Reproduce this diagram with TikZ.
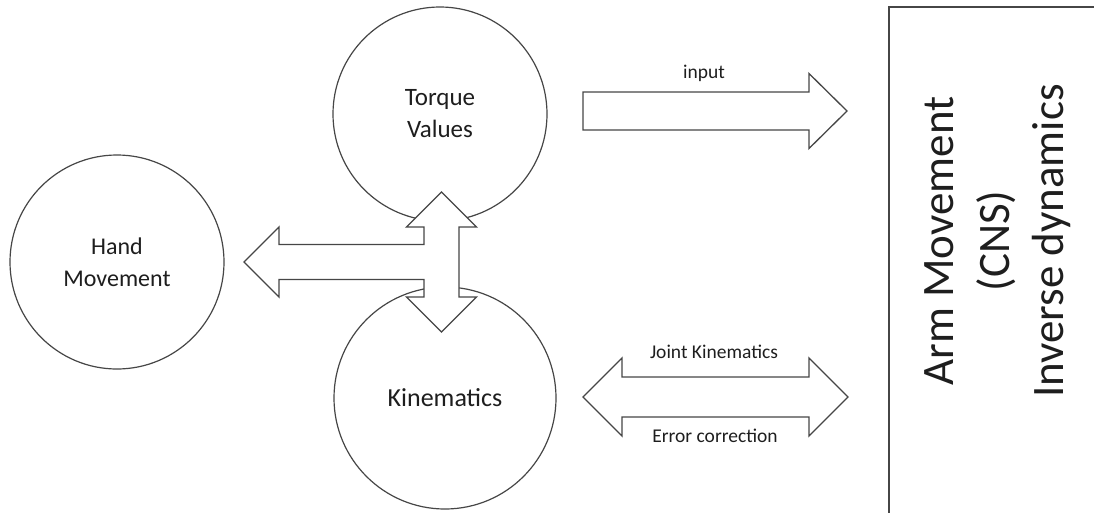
\documentclass[tikz,border=0pt]{standalone}
\usepackage{fontspec}
\setmainfont{Carlito}
\definecolor{lc}{RGB}{70,70,70}
\definecolor{tc}{RGB}{30,30,30}
\begin{document}
\begin{tikzpicture}[x=1pt,y=-1pt,
  blob/.style={circle, draw=lc, line width=1.2pt, fill=white, inner sep=0pt, align=center, text=tc},
  lbl/.style={anchor=base, text=tc, font=\fontsize{19.5}{22}\selectfont, inner sep=0pt},
  bigtxt/.style={anchor=base, rotate=90, text=tc, font=\fontsize{45}{54}\selectfont, inner sep=0pt},
  blockarrow/.style={draw=lc, line width=1.3pt, fill=white, line join=miter},
  frame/.style={draw=lc, line width=1.3pt}]
\useasboundingbox (0,0) rectangle (1094,512);
% circles
\node[blob, minimum size=214pt, font=\fontsize{24}{32}\selectfont] (hand) at (117,262) {Hand\\Movement};
\node[blob, minimum size=214pt, font=\fontsize{25}{32}\selectfont] (torque) at (440,114) {Torque\\Values};
\node[blob, minimum size=222pt, font=\fontsize{26}{32}\selectfont] (kin) at (445,398) {Kinematics};
% cross arrow (left + up/down)
\coordinate (cross) at (441.5,262);
\draw[blockarrow, shift={(cross)}]
  (0,-70) -- (35,-35) -- (17.5,-35) -- (17.5,35) -- (35,35) -- (0,70) -- (-35,35) -- (-17.5,35)
  -- (-17.5,17.5) -- (-162.5,17.5) -- (-162.5,35) -- (-197.5,0) -- (-162.5,-35) -- (-162.5,-17.5)
  -- (-17.5,-17.5) -- (-17.5,-35) -- (-35,-35) -- cycle;
% input arrow
\coordinate (inarr) at (583,111);
\draw[blockarrow, shift={(inarr)}]
  (0,-19) -- (226,-19) -- (226,-37.5) -- (264,0) -- (226,37.5) -- (226,19) -- (0,19) -- cycle;
\node[lbl] (input) at (704,78) {input};
% double arrow
\coordinate (dbl) at (583,397);
\draw[blockarrow, shift={(dbl)}]
  (0,0) -- (39,-39) -- (39,-20) -- (226,-20) -- (226,-39) -- (265,0) -- (226,39) -- (226,20)
  -- (39,20) -- (39,39) -- cycle;
\node[lbl] (joint) at (714,358) {Joint Kinematics};
\node[lbl] (err) at (715,442) {Error correction};
% right box
\coordinate (boxtl) at (889,7);
\draw[frame] (boxtl |- 0,520) -- (boxtl) -- (1100,7);
\node[bigtxt] (arm) at (953,241) {Arm Movement};
\node[bigtxt] (cns) at (1009,241) {(CNS)};
\node[bigtxt] (inv) at (1063,241) {Inverse dynamics};
\end{tikzpicture}
\end{document}
